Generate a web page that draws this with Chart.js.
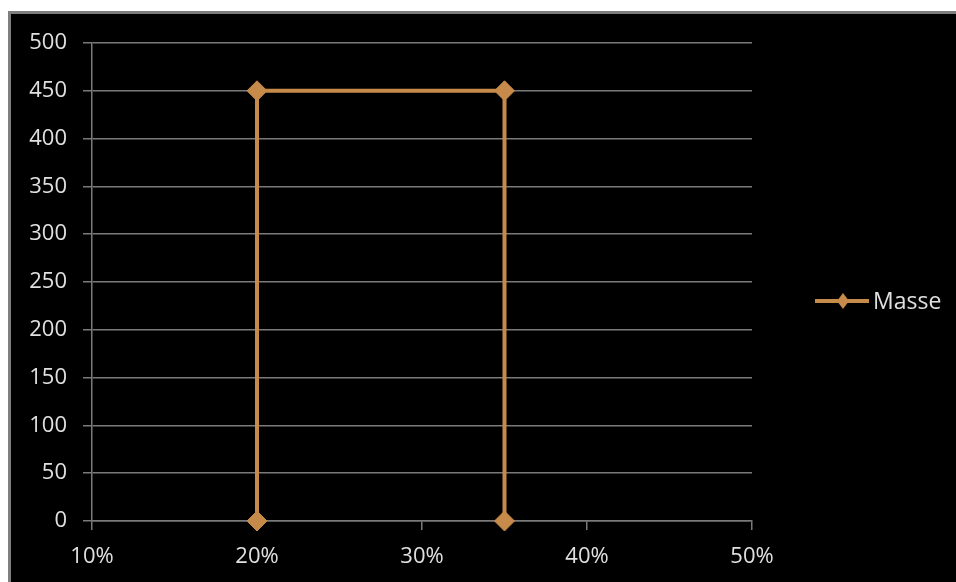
<!DOCTYPE html>
<html>
<head>
<meta charset="utf-8">
<script src="https://cdn.jsdelivr.net/npm/chart.js@4"></script>
<style>
  html, body { margin: 0; padding: 0; background: #ffffff; width: 956px; height: 582px; overflow: hidden; }
  #frame { position: absolute; left: 8px; top: 11px; right: 0; bottom: 0; background: #000; border-top: 3px solid #7f7f7f; border-left: 3px solid #7f7f7f; }
  #c { position: absolute; left: 0; top: 0; }
</style>
</head>
<body>
<div id="frame"></div>
<canvas id="c" width="956" height="582"></canvas>
<script>
// Data
const seriesName = "Masse";
const xValues = [0.20, 0.20, 0.35, 0.35];
const yValues = [0, 450, 450, 0];
const xTicks = [0.1, 0.2, 0.3, 0.4, 0.5];
const yTicks = [0, 50, 100, 150, 200, 250, 300, 350, 400, 450, 500];

const lineColor = '#C68A4A';
const gridColor = '#7a7a7a';
const textColor = '#e0e0e0';
const fontFamily = '"Open Sans", "DejaVu Sans", sans-serif';

const points = xValues.map((x, i) => ({ x: x, y: yValues[i] }));

const legendPlugin = {
  id: 'customLegend',
  afterDraw(chart) {
    const ctx = chart.ctx;
    const ds = chart.data.datasets[0];
    const y = 301;
    ctx.save();
    ctx.strokeStyle = ds.borderColor;
    ctx.lineWidth = 4;
    ctx.beginPath();
    ctx.moveTo(815, y);
    ctx.lineTo(869, y);
    ctx.stroke();
    ctx.fillStyle = ds.pointBackgroundColor;
    ctx.beginPath();
    ctx.moveTo(843, y - 8);
    ctx.lineTo(849, y);
    ctx.lineTo(843, y + 8);
    ctx.lineTo(837, y);
    ctx.closePath();
    ctx.fill();
    ctx.fillStyle = textColor;
    ctx.font = '23px ' + fontFamily;
    ctx.textBaseline = 'middle';
    ctx.textAlign = 'left';
    ctx.fillText(ds.label, 873, y + 1);
    ctx.restore();
  }
};

new Chart(document.getElementById('c'), {
  type: 'scatter',
  data: {
    datasets: [{
      label: seriesName,
      data: points,
      showLine: true,
      borderColor: lineColor,
      backgroundColor: lineColor,
      pointBackgroundColor: lineColor,
      pointBorderColor: lineColor,
      borderWidth: 4,
      pointStyle: 'rectRot',
      pointRadius: 10,
      pointBorderWidth: 1,
      pointHoverRadius: 10,
      clip: false,
      tension: 0
    }]
  },
  options: {
    responsive: false,
    animation: false,
    events: [],
    layout: { padding: { left: 0, top: 43, right: 204, bottom: 0 } },
    plugins: {
      legend: { display: false },
      tooltip: { enabled: false }
    },
    scales: {
      x: {
        type: 'linear',
        min: 0.1,
        max: 0.5,
        afterBuildTicks(scale) { scale.ticks = xTicks.map(v => ({ value: v })); },
        afterFit(scale) { scale.height = 61; },
        grid: { drawOnChartArea: false, drawTicks: true, tickLength: 9, color: gridColor, lineWidth: 1.5 },
        border: { display: true, color: gridColor, width: 1.5 },
        ticks: {
          color: textColor,
          font: { family: fontFamily, size: 22 },
          padding: 14,
          maxRotation: 0,
          callback: v => Math.round(v * 100) + '%'
        }
      },
      y: {
        type: 'linear',
        min: 0,
        max: 500,
        afterBuildTicks(scale) { scale.ticks = yTicks.map(v => ({ value: v })); },
        afterFit(scale) { scale.width = 92; },
        grid: { drawOnChartArea: true, drawTicks: true, tickLength: 9, color: gridColor, lineWidth: 1.5 },
        border: { display: true, color: gridColor, width: 1.5 },
        ticks: {
          color: textColor,
          font: { family: fontFamily, size: 22 },
          padding: 16
        }
      }
    }
  },
  plugins: [legendPlugin]
});
</script>
</body>
</html>
